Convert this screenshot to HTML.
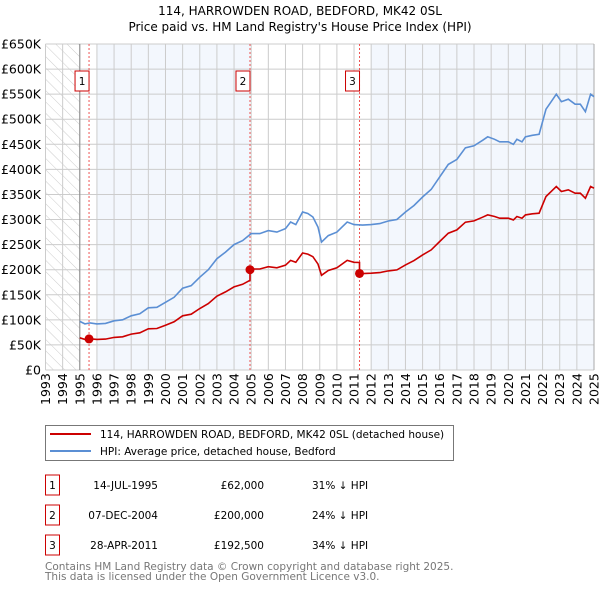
<!DOCTYPE html>
<html><head><meta charset="utf-8"><style>
body{margin:0;background:#fff;font-family:"DejaVu Sans","Liberation Sans",sans-serif;}
svg text{font-family:"DejaVu Sans","Liberation Sans",sans-serif;}
</style></head><body>
<svg id="c" width="600" height="590" xmlns="http://www.w3.org/2000/svg"></svg>
<script>
const hpiYears=[1995,1995.3,1995.6,1996,1996.5,1997,1997.5,1998,1998.5,1999,1999.5,2000,2000.5,2001,2001.5,2002,2002.5,2003,2003.5,2004,2004.5,2005,2005.5,2006,2006.5,2007,2007.3,2007.6,2008,2008.3,2008.6,2008.9,2009.1,2009.5,2010,2010.3,2010.6,2011,2011.5,2012,2012.5,2013,2013.5,2014,2014.5,2015,2015.5,2016,2016.5,2017,2017.5,2018,2018.5,2018.8,2019.2,2019.5,2020,2020.3,2020.5,2020.8,2021,2021.4,2021.8,2022.2,2022.6,2022.8,2023.1,2023.5,2023.9,2024.2,2024.5,2024.8,2025];
const hpiValues=[97,92,94,92,93,98,100,108,112,124,125,135,145,163,168,185,200,222,235,250,258,272,272,278,275,282,295,290,315,312,305,285,255,268,275,285,295,290,289,290,292,297,300,315,328,345,360,385,410,420,443,447,458,465,460,455,455,450,460,455,465,468,470,520,540,550,535,540,530,530,515,550,545];
const saleDates=[1995.54,2004.93,2011.32];
const salePrices=[62,200,192.5];
const saleLabels=["1","2","3"];
const yTicks=[0,50,100,150,200,250,300,350,400,450,500,550,600,650];
const yTickLabels=["£0","£50K","£100K","£150K","£200K","£250K","£300K","£350K","£400K","£450K","£500K","£550K","£600K","£650K"];
const xTicks=[1993,1994,1995,1996,1997,1998,1999,2000,2001,2002,2003,2004,2005,2006,2007,2008,2009,2010,2011,2012,2013,2014,2015,2016,2017,2018,2019,2020,2021,2022,2023,2024,2025];

const svg=document.getElementById('c');const NS='http://www.w3.org/2000/svg';
const L=45.5,R=594,T=44,B=370;
const X=y=>L+(y-1993)/(2025-1993)*(R-L);
const Y=v=>B-v/650*(B-T);
function el(tag,attrs,name,parent){const e=document.createElementNS(NS,tag);for(const k in attrs)e.setAttribute(k,attrs[k]);


(parent||svg).appendChild(e);return e;}
function txt(s,attrs,name){const e=el('text',attrs,name);e.textContent=s;return e;}
function hpiAt(t){for(let i=0;i<hpiYears.length-1;i++){if(t<=hpiYears[i+1]){const f=(t-hpiYears[i])/(hpiYears[i+1]-hpiYears[i]);return hpiValues[i]+f*(hpiValues[i+1]-hpiValues[i]);}}return hpiValues[hpiValues.length-1];}

txt("114, HARROWDEN ROAD, BEDFORD, MK42 0SL",{x:300,y:15,'text-anchor':'middle','font-size':12},'chart-title');
txt("Price paid vs. HM Land Registry's House Price Index (HPI)",{x:300,y:31,'text-anchor':'middle','font-size':12},'chart-subtitle');

const defs=el('defs',{},'defs');
const pat=el('pattern',{id:'hatch',width:8,height:8,patternUnits:'userSpaceOnUse',patternTransform:'rotate(-45)'},'hatch-pattern',defs);
el('line',{x1:0,y1:0,x2:0,y2:8,stroke:'#ccc','stroke-width':1},'hatch-line',pat);
el('rect',{x:L,y:T,width:X(1995)-L,height:B-T,fill:'url(#hatch)'},'pre-data-hatch');
el('rect',{x:X(1996),y:T,width:X(2004.93)-X(1996),height:B-T,fill:'#eef3fc',opacity:0.7},'shade-band-1');
el('rect',{x:X(2012),y:T,width:R-X(2012),height:B-T,fill:'#eef3fc',opacity:0.7},'shade-band-2');
const grid=el('g',{stroke:'#ccc','stroke-width':1},'grid');
yTicks.forEach((v,i)=>{el('line',{x1:L,x2:R,y1:Y(v),y2:Y(v)},'y-gridline',grid);
txt(yTickLabels[i],{x:41,y:Y(v)+4.5,'text-anchor':'end','font-size':12.5},'y-tick-label');});
xTicks.forEach(t=>{el('line',{x1:X(t),x2:X(t),y1:T,y2:B},'x-gridline',grid);
txt(String(t),{transform:`translate(${X(t)+4.5},${B+35}) rotate(-90)`,'font-size':12.5},'x-tick-label');});
el('line',{x1:X(1995),x2:X(1995),y1:T,y2:B,stroke:'#888'},'data-start-line');
el('line',{x1:R,x2:R,y1:T,y2:B,stroke:'#aaa'},'right-axis-line');

saleDates.forEach((d,i)=>{el('line',{x1:X(d),x2:X(d),y1:T,y2:B,stroke:'#e55','stroke-width':1,'stroke-dasharray':'2,2'},'sale-marker-line');
el('rect',{x:X(d)-14,y:71,width:14,height:20,fill:'#fff',stroke:'#c00'},'sale-marker-box');
txt(saleLabels[i],{x:X(d)-7,y:85,'text-anchor':'middle','font-size':10.5},'sale-marker-number');});

let hp='';hpiYears.forEach((t,i)=>{hp+=(i?'L':'M')+X(t).toFixed(1)+','+Y(hpiValues[i]).toFixed(1);});
el('path',{d:hp,fill:'none',stroke:'#5b8fd4','stroke-width':1.6},'hpi-line');

const ratios=saleDates.map((d,i)=>salePrices[i]/hpiAt(d));
function ratioAt(t){let r=ratios[0];saleDates.forEach((d,i)=>{if(t>=d)r=ratios[i];});return r;}
let pts=[...hpiYears];saleDates.forEach(d=>{pts.push(d-0.001);pts.push(d);});pts.sort((a,b)=>a-b);
let rp='';pts.forEach((t,i)=>{rp+=(i?'L':'M')+X(t).toFixed(1)+','+Y(hpiAt(t)*ratioAt(t)).toFixed(1);});
el('path',{d:rp,fill:'none',stroke:'#c00','stroke-width':1.6},'property-price-line');
saleDates.forEach((d,i)=>el('circle',{cx:X(d),cy:Y(salePrices[i]),r:4.5,fill:'#c00'},'sale-point'));

el('rect',{x:45.5,y:425.5,width:408,height:35,fill:'#fff',stroke:'#777'},'legend');
el('line',{x1:50,x2:91,y1:434,y2:434,stroke:'#c00','stroke-width':2},'legend-swatch-property');
txt("114, HARROWDEN ROAD, BEDFORD, MK42 0SL (detached house)",{x:100,y:438,'font-size':10.5},'legend-label-property');
el('line',{x1:50,x2:91,y1:451,y2:451,stroke:'#5b8fd4','stroke-width':2},'legend-swatch-hpi');
txt("HPI: Average price, detached house, Bedford",{x:100,y:455,'font-size':10.5},'legend-label-hpi');

const rowDates=["14-JUL-1995","07-DEC-2004","28-APR-2011"];
const rowPrices=["£62,000","£200,000","£192,500"];
const rowPct=["31% ↓ HPI","24% ↓ HPI","34% ↓ HPI"];
rowDates.forEach((d,i)=>{const y=483+i*30;
el('rect',{x:45.5,y:y-8,width:14,height:20,fill:'#fff',stroke:'#c00'},'table-row-number-box');
txt(String(i+1),{x:52.5,y:y+6,'text-anchor':'middle','font-size':10.5},'table-row-number');
txt(d,{x:158,y:y+6,'text-anchor':'end','font-size':10.5},'table-row-date');
txt(rowPrices[i],{x:264,y:y+6,'text-anchor':'end','font-size':10.5},'table-row-price');
txt(rowPct[i],{x:312,y:y+6,'font-size':10.5},'table-row-hpi-diff');});
txt("Contains HM Land Registry data © Crown copyright and database right 2025.",{x:45,y:570,'font-size':10.5,fill:'#777'},'footer-copyright');
txt("This data is licensed under the Open Government Licence v3.0.",{x:45,y:580,'font-size':10.5,fill:'#777'},'footer-licence');
</script>
</body></html>
